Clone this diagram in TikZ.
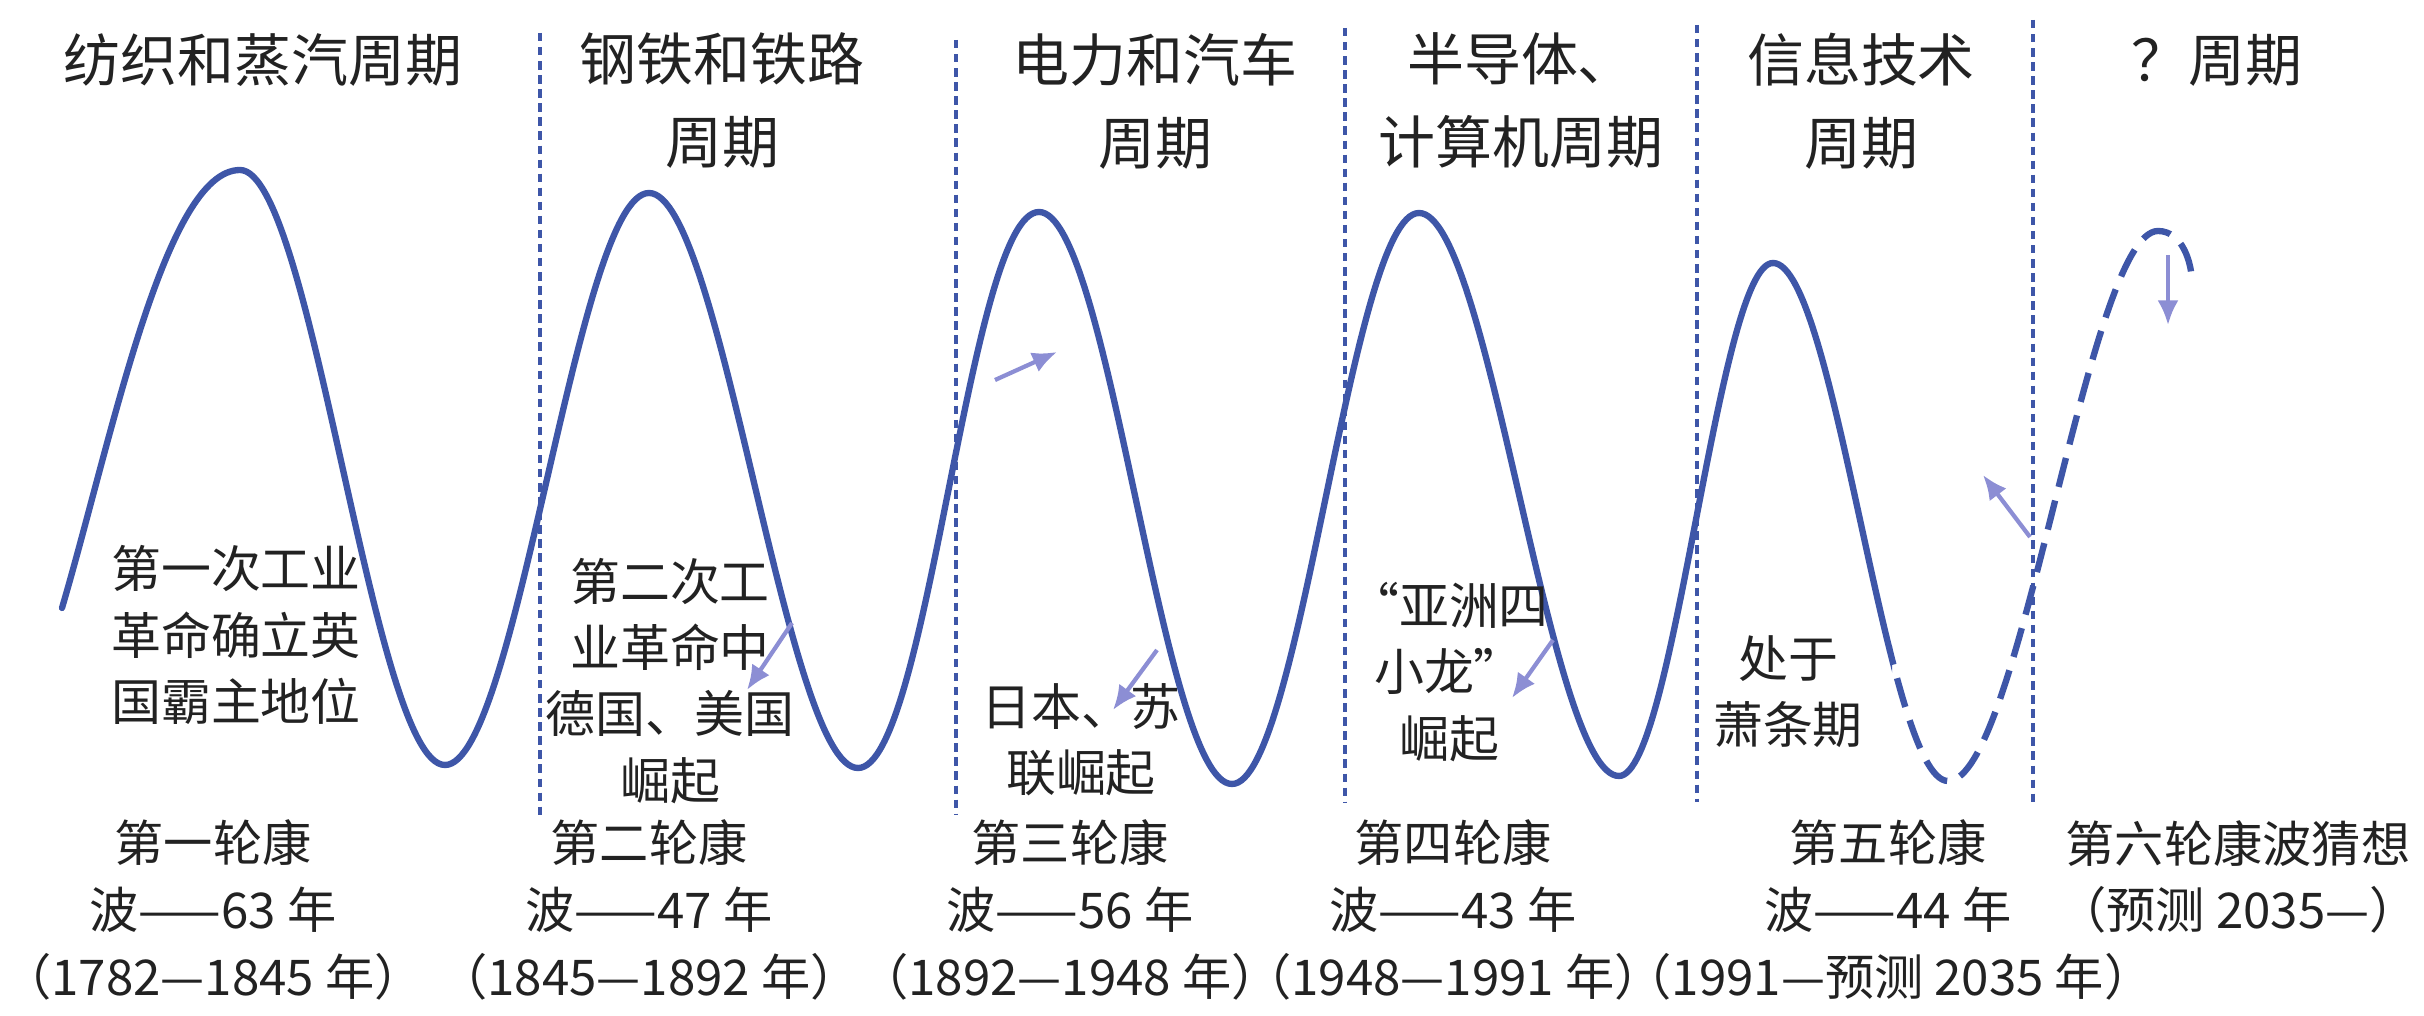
\documentclass[tikz,border=0pt]{standalone}
\usepackage{fontspec}
\setmainfont{Noto Sans CJK SC}
\newfontfamily\halfcjk{Noto Sans CJK SC}[RawFeature=+halt]
\usetikzlibrary{arrows.meta}
\definecolor{waveblue}{RGB}{62,86,168}
\definecolor{hintblue}{RGB}{140,142,212}
\definecolor{inkgray}{RGB}{34,34,34}

\begin{document}
\begin{tikzpicture}
[
    x=0.01cm, y=-0.01cm,
    wave/.style={draw=waveblue, line width=1.8pt, line cap=round},
    future/.style={wave, line cap=butt, dash pattern=on 8.5pt off 4pt},
    divider/.style={draw=waveblue, line width=0.9pt, dash pattern=on 2.4pt off 1.6pt},
    hint/.style={draw=hintblue, fill=hintblue, line width=1.2pt, -{Latex[length=7pt,width=6pt]}},
    cyclename/.style={text=inkgray, align=center, inner sep=0pt, font=\fontsize{16.2}{23.6}\selectfont},
    eventtext/.style={text=inkgray, align=center, inner sep=0pt, font=\fontsize{14.2}{18.8}\selectfont},
    wavename/.style={text=inkgray, align=center, inner sep=0pt, font=\halfcjk\fontsize{14}{19}\selectfont}
]
    \fill[white] (0,0) rectangle (2424,1016);
    \useasboundingbox (0,0) rectangle (2424,1016);

    % cycle borders
    \foreach \xx/\ya/\yb in {540/33/815, 956/40/815, 1345/28/802, 1697/25/802, 2033/20/802}
        \draw[divider] (\xx,\ya) -- (\xx,\yb);

    % long waves
    \draw[wave] (62,608) .. controls +(50,-170) and +(-75,0) .. (240,170)
        .. controls +(72,0) and +(-72,0) .. (445,765)
        .. controls +(72,0) and +(-72,0) .. (649,193)
        .. controls +(72,0) and +(-72,0) .. (858,768)
        .. controls +(70,0) and +(-70,0) .. (1039,212)
        .. controls +(70,0) and +(-70,0) .. (1232,784)
        .. controls +(68,0) and +(-68,0) .. (1419,213)
        .. controls +(70,0) and +(-70,0) .. (1619,776)
        .. controls +(55,0) and +(-55,0) .. (1773,263);
    \begin{scope}
        \clip (1700,0) rectangle (1892,1016);
        \draw[wave] (1773,263) .. controls +(62,0) and +(-62,0) .. (1948,781);
    \end{scope}
    \begin{scope}
        \clip (1892,0) rectangle (2424,1016);
        \draw[future] (1773,263) .. controls +(62,0) and +(-62,0) .. (1948,781)
            .. controls +(72,0) and +(-70,0) .. (2158,231)
            .. controls +(24,0) and +(0,-22) .. (2192,284);
    \end{scope}

    % cycle names
    \node[cyclename] (c1) at (263,60) {纺织和蒸汽周期};
    \node[cyclename] (c2) at (722,101) {钢铁和铁路\\周期};
    \node[cyclename] (c3) at (1155,101) {电力和汽车\\周期};
    \node[cyclename] (c4) at (1521,101) {半导体、\\计算机周期};
    \node[cyclename] (c5) at (1861,101) {信息技术\\周期};
    \node[cyclename] (c6) at (2217,60) {？周期};

    % events
    \node[eventtext] (e1) at (236,635) {第一次工业\\革命确立英\\国霸主地位};
    \node[eventtext] (e2) at (670,681) {第二次工\\业革命中\\德国、美国\\崛起};
    \node[eventtext] (e3) at (1081,740) {日本、苏\\联崛起};
    \node[eventtext] (e4) at (1449,672) {“亚洲四\\小龙”\\崛起};
    \node[eventtext] (e5) at (1788,692) {处于\\萧条期};

    % wave names
    \node[wavename] (w1) at (213,910) {第一轮康\\波——63 年\\（1782—1845 年）};
    \node[wavename] (w2) at (649,910) {第二轮康\\波——47 年\\（1845—1892 年）};
    \node[wavename] (w3) at (1070,910) {第三轮康\\波——56 年\\（1892—1948 年）};
    \node[wavename] (w4) at (1453,910) {第四轮康\\波——43 年\\（1948—1991 年）};
    \node[wavename] (w5) at (1888,910) {第五轮康\\波——44 年\\（1991—预测 2035 年）};
    \node[wavename] (w6) at (2238,877) {第六轮康波猜想\\（预测 2035—）};

    % hint arrows
    \coordinate (h1a) at (792,623);
    \coordinate (h1b) at (747,690);
    \coordinate (h2a) at (995,380);
    \coordinate (h2b) at (1057,352);
    \coordinate (h3a) at (1157,650);
    \coordinate (h3b) at (1113,710);
    \coordinate (h4a) at (1553,640);
    \coordinate (h4b) at (1512,698);
    \coordinate (h5a) at (2030,537);
    \coordinate (h5b) at (1983,475);
    \coordinate (h6a) at (2168,255);
    \coordinate (h6b) at (2168,325);
    \draw[hint] (h1a) -- (h1b);
    \draw[hint] (h2a) -- (h2b);
    \draw[hint] (h3a) -- (h3b);
    \draw[hint] (h4a) -- (h4b);
    \draw[hint] (h5a) -- (h5b);
    \draw[hint] (h6a) -- (h6b);
\end{tikzpicture}
\end{document}
